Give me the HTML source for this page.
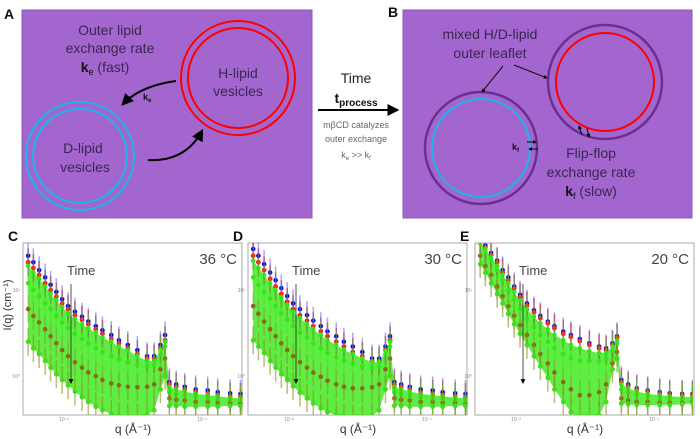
<!DOCTYPE html>
<html><head><meta charset="utf-8"><style>
html,body{margin:0;padding:0;background:#fff;}
svg{display:block;font-family:"Liberation Sans",sans-serif;}
</style></head><body>
<svg id="fig" width="700" height="439" viewBox="0 0 700 439" xmlns="http://www.w3.org/2000/svg">
<defs>
<marker id="ah" viewBox="0 0 10 10" refX="8" refY="5" markerWidth="6" markerHeight="6" orient="auto"><path d="M0,0 L10,5 L0,10 z" fill="#000"/></marker>
<marker id="ahs" viewBox="0 0 10 10" refX="8" refY="5" markerWidth="4" markerHeight="4" orient="auto"><path d="M0,0 L10,5 L0,10 z" fill="#000"/></marker>
<clipPath id="cpC"><rect x="23" y="243" width="220" height="172"/></clipPath>
<clipPath id="cpD"><rect x="248" y="243" width="221" height="172"/></clipPath>
<clipPath id="cpE"><rect x="475" y="243" width="218" height="172"/></clipPath>
</defs>

<!-- Panel A -->
<g>
<text x="4" y="19" font-size="14" font-weight="bold" fill="#111">A</text>
<rect x="22" y="10" width="290" height="208" fill="#a366cf" stroke="#8f55bd" stroke-width="1"/>
<g fill="#3a2650" font-size="14" text-anchor="middle">
<text x="110" y="35">Outer lipid</text>
<text x="110" y="53">exchange rate</text>
<text x="105" y="72"><tspan font-weight="bold" fill="#111">k</tspan><tspan font-size="9" dy="3" fill="#111">e</tspan><tspan dy="-3"> (fast)</tspan></text>
</g>
<circle cx="238" cy="78" r="57" fill="none" stroke="#ff0000" stroke-width="2"/>
<circle cx="238" cy="78" r="50" fill="none" stroke="#ff0000" stroke-width="2"/>
<text x="238" y="78" font-size="14" fill="#3a2650" text-anchor="middle">H-lipid</text>
<text x="238" y="96" font-size="14" fill="#3a2650" text-anchor="middle">vesicles</text>
<circle cx="80" cy="156" r="54" fill="none" stroke="#1fb4ea" stroke-width="2"/>
<circle cx="80" cy="156" r="47" fill="none" stroke="#1fb4ea" stroke-width="2"/>
<text x="83" y="153" font-size="14" fill="#3a2650" text-anchor="middle">D-lipid</text>
<text x="85" y="172" font-size="14" fill="#3a2650" text-anchor="middle">vesicles</text>
<path d="M176,81 Q140,86 123,104" fill="none" stroke="#000" stroke-width="2" marker-end="url(#ah)"/>
<text x="143" y="100" font-size="9" font-weight="bold" fill="#111">k<tspan font-size="6" dy="2">e</tspan></text>
<path d="M148,160 Q185,162 202,131" fill="none" stroke="#000" stroke-width="2" marker-end="url(#ah)"/>
</g>

<!-- middle process -->
<g text-anchor="middle">
<text x="356" y="83" font-size="14" fill="#222">Time</text>
<text x="356" y="103" font-size="14" font-weight="bold" fill="#111">t<tspan font-size="10" dy="3">process</tspan></text>
<line x1="318" y1="110" x2="397" y2="110" stroke="#000" stroke-width="2" marker-end="url(#ah)"/>
<text x="356" y="128" font-size="9" fill="#666">mβCD catalyzes</text>
<text x="356" y="142" font-size="9" fill="#666">outer exchange</text>
<text x="356" y="158" font-size="9" fill="#666">k<tspan font-size="6" dy="2">e</tspan><tspan dy="-2"> &gt;&gt; k</tspan><tspan font-size="6" dy="2">f</tspan></text>
</g>

<!-- Panel B -->
<g>
<text x="388" y="17" font-size="14" font-weight="bold" fill="#111">B</text>
<rect x="403" y="10" width="289" height="208" fill="#a366cf" stroke="#8f55bd" stroke-width="1"/>
<circle cx="481" cy="148" r="56" fill="none" stroke="#6b2f8f" stroke-width="2.5"/>
<circle cx="481" cy="148" r="49" fill="none" stroke="#1fb4ea" stroke-width="2"/>
<circle cx="605" cy="82" r="57" fill="none" stroke="#6b2f8f" stroke-width="2.5"/>
<circle cx="605" cy="82" r="49" fill="none" stroke="#ff0000" stroke-width="2"/>
<text x="490" y="39" font-size="14" fill="#3a2650" text-anchor="middle">mixed H/D-lipid</text>
<text x="490" y="58" font-size="14" fill="#3a2650" text-anchor="middle">outer leaflet</text>
<line x1="503" y1="66" x2="482" y2="92" stroke="#111" stroke-width="1" marker-end="url(#ahs)"/>
<line x1="514" y1="65" x2="547" y2="78" stroke="#111" stroke-width="1" marker-end="url(#ahs)"/>
<text x="512" y="150" font-size="9" font-weight="bold" fill="#111">k<tspan font-size="6" dy="2">f</tspan></text>
<line x1="527" y1="142" x2="536" y2="142" stroke="#000" stroke-width="1" marker-end="url(#ahs)"/>
<line x1="538" y1="149" x2="529" y2="149" stroke="#000" stroke-width="1" marker-end="url(#ahs)"/>
<line x1="582" y1="135" x2="579" y2="126" stroke="#000" stroke-width="1" marker-end="url(#ahs)"/>
<line x1="587" y1="128" x2="589" y2="137" stroke="#000" stroke-width="1" marker-end="url(#ahs)"/>
<g fill="#3a2650" font-size="14" text-anchor="middle">
<text x="591" y="158">Flip-flop</text>
<text x="591" y="177">exchange rate</text>
<text x="591" y="196"><tspan font-weight="bold" fill="#111">k</tspan><tspan font-size="9" dy="3" fill="#111">f</tspan><tspan dy="-3"> (slow)</tspan></text>
</g>
</g>

<g id="charts"></g>
</svg>
<script>
const qValues=[0.0055,0.006,0.0066,0.0073,0.008,0.0088,0.0097,0.0107,0.012,0.0135,0.015,0.017,0.019,0.022,0.025,0.029,0.034,0.04,0.045,0.05,0.054,0.058,0.065,0.075,0.09,0.11,0.13,0.16,0.19];
const xTickValues=[0.01,0.1];
const xTickLabels=["10⁻²","10⁻¹"];
const yTickValues=[1,10];
const yTickLabels=["10⁰","10¹"];
const panelLabels=["C","D","E"];
const tempLabels=["36 °C","30 °C","20 °C"];
// panel C series
const cBlue=[25,21,17,14,11.5,9.5,7.8,6.5,5.6,4.9,4.3,3.8,3.4,3.0,2.6,2.3,2.0,1.7,1.7,2.3,3.0,0.85,0.8,0.75,0.7,0.68,0.65,0.63,0.62];
const cRed=[21,18,15,12,10,8.4,7,6,5.1,4.5,4,3.5,3.1,2.7,2.4,2.1,1.8,1.6,1.6,2.1,2.6,0.8,0.75,0.7,0.65,0.62,0.6,0.58,0.57];
const cGreenEarly=[19,16,13.5,11,9,7.6,6.3,5.4,4.6,4.0,3.6,3.2,2.8,2.5,2.2,2.0,1.7,1.5,1.5,2.0,2.5,0.75,0.7,0.66,0.62,0.6,0.58,0.56,0.55];
const cGreenMid=[12,10,8.5,7,6,5,4.2,3.6,3.1,2.7,2.4,2.1,1.9,1.7,1.55,1.45,1.35,1.3,1.35,1.8,2.2,0.65,0.62,0.6,0.57,0.55,0.54,0.53,0.52];
const cBrown=[6,5,4.2,3.5,2.9,2.4,2.0,1.7,1.45,1.25,1.1,1.0,0.9,0.82,0.78,0.75,0.74,0.75,0.8,1.2,1.6,0.55,0.53,0.52,0.5,0.5,0.49,0.49,0.48];
const cGreenLate=[2.5,2.1,1.8,1.5,1.25,1.05,0.9,0.78,0.66,0.57,0.5,0.44,0.4,0.36,0.34,0.33,0.33,0.35,0.4,0.7,1.0,0.45,0.45,0.44,0.44,0.44,0.44,0.45,0.45];
// panel D series
const dBlue=[30,25,20,16,13,10.5,8.5,7,6,5.1,4.4,3.8,3.3,2.9,2.5,2.2,1.9,1.6,1.6,2.2,2.9,0.85,0.8,0.75,0.7,0.68,0.65,0.63,0.62];
const dRed=[25,21,17,13.5,11,9,7.3,6,5.1,4.4,3.8,3.3,2.9,2.5,2.2,1.9,1.7,1.5,1.5,2.0,2.6,0.8,0.75,0.7,0.65,0.62,0.6,0.58,0.57];
const dGreenEarly=[22,18,15,12,10,8.2,6.7,5.6,4.7,4.0,3.5,3.0,2.6,2.3,2.0,1.8,1.6,1.45,1.45,1.95,2.5,0.75,0.7,0.66,0.62,0.6,0.58,0.56,0.55];
const dGreenMid=[14,11.5,9.5,8,6.5,5.4,4.5,3.8,3.2,2.8,2.4,2.1,1.85,1.65,1.5,1.4,1.3,1.25,1.3,1.8,2.2,0.65,0.62,0.6,0.57,0.55,0.54,0.53,0.52];
const dBrown=[6.5,5.3,4.3,3.5,2.9,2.4,2,1.7,1.45,1.25,1.1,0.98,0.88,0.8,0.75,0.72,0.72,0.74,0.8,1.2,1.6,0.55,0.53,0.52,0.5,0.5,0.49,0.49,0.48];
const dGreenLate=[2.6,2.2,1.85,1.5,1.25,1.05,0.9,0.76,0.64,0.55,0.48,0.42,0.38,0.35,0.33,0.32,0.32,0.34,0.4,0.7,1.0,0.45,0.45,0.44,0.44,0.44,0.44,0.45,0.45];
// panel E series
const eBlue=[40,33,27,22,17,14,11,8.8,7,5.8,5,4.3,3.8,3.3,3.0,2.7,2.4,2.2,2.1,2.4,2.9,0.9,0.8,0.72,0.68,0.65,0.63,0.62,0.62];
const eRed=[38,31,25.5,21,16,13,10.4,8.3,6.6,5.5,4.7,4.1,3.6,3.1,2.85,2.55,2.3,2.1,2.0,2.3,2.8,0.85,0.76,0.7,0.66,0.63,0.61,0.6,0.6];
const eGreenEarly=[37,30,24,19,15,12,9.5,7.5,6,4.9,4.1,3.5,3.0,2.6,2.3,2.1,1.95,1.85,1.85,2.2,2.6,0.8,0.72,0.66,0.62,0.6,0.58,0.57,0.57];
const eGreenMid=[35,28,22,17,13,10,7.8,6,4.6,3.7,3.0,2.5,2.1,1.8,1.6,1.5,1.5,1.5,1.6,2.0,2.4,0.7,0.65,0.6,0.58,0.56,0.55,0.55,0.55];
const eBrown=[25,19,15,11,8.5,6.5,5,3.9,3,2.3,1.8,1.4,1.1,0.85,0.7,0.6,0.6,0.65,0.8,1.4,1.9,0.55,0.52,0.5,0.5,0.49,0.49,0.49,0.5];
const eGreenLate=[20,16,12,9,7,5.3,4,3.1,2.3,1.7,1.3,0.95,0.7,0.5,0.38,0.3,0.3,0.35,0.5,1.2,1.6,0.48,0.47,0.46,0.46,0.46,0.46,0.47,0.48];

const NS="http://www.w3.org/2000/svg";
const root=document.getElementById('charts');
function mk(tag,attrs,parent){const e=document.createElementNS(NS,tag);for(const k in attrs)e.setAttribute(k,attrs[k]);parent.appendChild(e);return e;}

const panels=[
 {x0:23,clip:"cpC",series:[["#0000ff",cBlue],["#8b1a9a",cRed],["#ff1a1a",cRed],["#33e61a",cGreenEarly],["#8a6a1a",cBrown],["#33e61a",cGreenMid],["#ff1a1a",cGreenLate],["#33e61a",cGreenLate]],band:[cGreenEarly,cGreenLate],ylab:true},
 {x0:248,clip:"cpD",series:[["#0000ff",dBlue],["#8b1a9a",dRed],["#ff1a1a",dRed],["#33e61a",dGreenEarly],["#8a6a1a",dBrown],["#33e61a",dGreenMid],["#ff1a1a",dGreenLate],["#33e61a",dGreenLate]],band:[dGreenEarly,dGreenLate],ylab:false},
 {x0:475,clip:"cpE",series:[["#0000ff",eBlue],["#8b1a9a",eRed],["#ff1a1a",eRed],["#33e61a",eGreenEarly],["#8a6a1a",eBrown],["#33e61a",eGreenMid],["#ff1a1a",eGreenLate],["#33e61a",eGreenLate]],band:[eGreenEarly,eGreenLate],ylab:false}
];
const W=219,Y0=243,H=172,DEC_X=138,DEC_Y=86;
panels.forEach((p,pi)=>{
  const xs=q=>p.x0+41+DEC_X*(Math.log10(q)+2);
  const ys=v=>376-DEC_Y*Math.log10(v);
  const g=mk('g',{},root);
  
  
  const lab=mk('text',{x:p.x0-15,y:241,'font-size':14,'font-weight':'bold',fill:'#111'},g);
  lab.textContent=panelLabels[pi];
  
  
  const box=mk('rect',{x:p.x0,y:Y0,width:W,height:H,fill:'#fff',stroke:'#aaa','stroke-width':1},g);
  
  
  const cg=mk('g',{'clip-path':'url(#'+p.clip+')'},g);
  let d='';
  qValues.forEach((q,i)=>{d+=(i?'L':'M')+xs(q).toFixed(1)+','+ys(p.band[0][i]).toFixed(1);});
  for(let i=qValues.length-1;i>=0;i--)d+='L'+xs(qValues[i]).toFixed(1)+','+ys(p.band[1][i]).toFixed(1);
  const band=mk('path',{d:d+'Z',fill:'#44ea22','fill-opacity':0.85},cg);
  
  
  p.series.forEach((s,si)=>{
    const sg=mk('g',{},cg);
    
    
    qValues.forEach((q,i)=>{
      const v=s[1][i];const x=xs(q);
      const eb=mk('line',{x1:x,x2:x,y1:ys(v*1.45),y2:ys(v/1.45),stroke:s[0],'stroke-opacity':0.35,'stroke-width':1.5},sg);
      
      
      const c=mk('circle',{cx:x,cy:ys(v),r:2.3,fill:s[0]},sg);
      
      
    });
  });
  xTickValues.forEach((t,i)=>{
    const tx=mk('text',{x:xs(t),y:421,'font-size':5,fill:'#888','text-anchor':'middle'},g);
    tx.textContent=xTickLabels[i];
    
    
  });
  yTickValues.forEach((t,i)=>{
    const ty=mk('text',{x:p.x0-3,y:ys(t)+2,'font-size':5,fill:'#888','text-anchor':'end'},g);
    ty.textContent=yTickLabels[i];
    
    
  });
  const xt=mk('text',{x:p.x0+110,y:433,'font-size':12,fill:'#333','text-anchor':'middle'},g);
  xt.textContent='q (Å⁻¹)';
  
  
  if(p.ylab){
    const yt=mk('text',{x:0,y:0,'font-size':11,fill:'#333','text-anchor':'middle',transform:'translate(11,305) rotate(-90)'},g);
    yt.textContent='I(q) (cm⁻¹)';
    
    
  }
  const temp=mk('text',{x:p.x0+W-5,y:264,'font-size':15,fill:'#444','text-anchor':'end'},g);
  temp.textContent=tempLabels[pi];
  
  
  const tl=mk('text',{x:p.x0+44,y:275,'font-size':13,fill:'#444'},g);
  tl.textContent='Time';
  
  
  const ar=mk('line',{x1:p.x0+48,y1:284,x2:p.x0+48,y2:383,stroke:'#222','stroke-width':0.8,'marker-end':'url(#ah)'},g);
  
  
});
</script>
</body></html>
